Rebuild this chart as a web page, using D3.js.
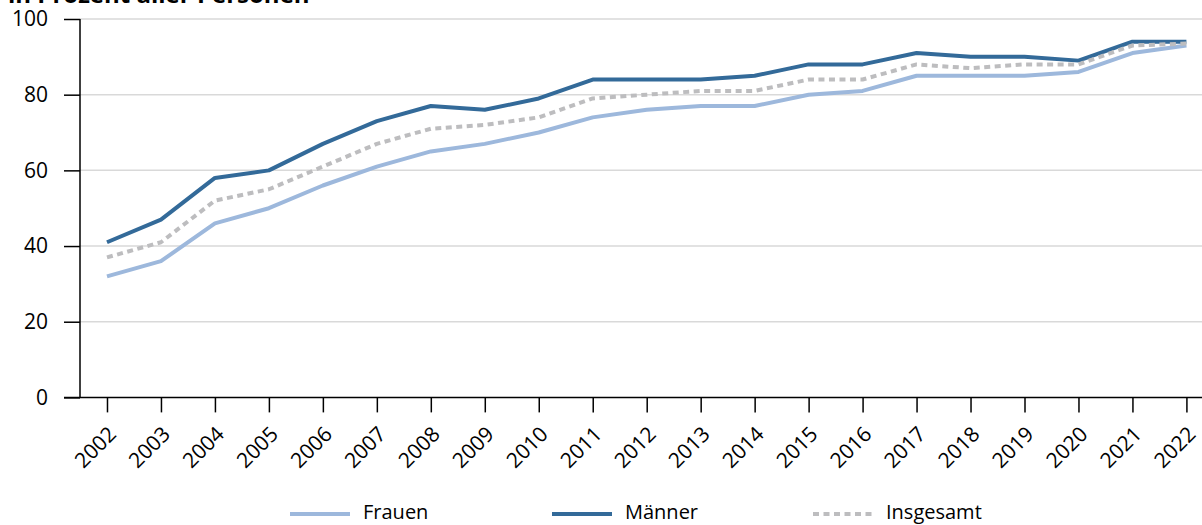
<!DOCTYPE html>
<html><head><meta charset="utf-8">
<script src="https://cdn.jsdelivr.net/npm/d3@7"></script>
<style>
html,body{margin:0;padding:0;background:#fff;}
svg{display:block;font-family:"Open Sans",sans-serif;}
</style></head>
<body><svg id="c" width="1202" height="525"></svg>
<script>
const years = ["2002","2003","2004","2005","2006","2007","2008","2009","2010","2011","2012","2013","2014","2015","2016","2017","2018","2019","2020","2021","2022"];
const frauen = [32,36,46,50,56,61,65,67,70,74,76,77,77,80,81,85,85,85,86,91,93];
const maenner = [41,47,58,60,67,73,77,76,79,84,84,84,85,88,88,91,90,90,89,94,94];
const insgesamt = [37,41,52,55,61,67,71,72,74,79,80,81,81,84,84,88,87,88,88,93,93.5];
const yTicks = [0,20,40,60,80,100];
const title = "in Prozent aller Personen";
const seriesNames = ["Frauen","Männer","Insgesamt"];

(function(){
const W = 1202, H = 525;
const mLeft = 80, mTop = 19, mBottom = 397.4;
const svg = d3.select("#c");

const x = d3.scalePoint().domain(years).range([mLeft, 1213.4]).padding(0.5);
const y = d3.scaleLinear().domain([0,100]).range([mBottom, mTop]);

// title (cut off at the top, as in the source)
svg.append("text").attr("x", 8).attr("y", 3).attr("font-weight", "bold")
  .attr("font-size", 24).attr("fill", "#000").text(title);

// gridlines
svg.append("g").selectAll("line").data(yTicks.filter(d => d > 0)).join("line")
  .attr("x1", mLeft).attr("x2", W).attr("y1", d => y(d)).attr("y2", d => y(d))
  .attr("stroke", "#d9d9d9").attr("stroke-width", 1.5);

// y axis
const gy = svg.append("g").attr("transform", `translate(${mLeft},0)`)
  .call(d3.axisLeft(y).tickValues(yTicks).tickSize(16).tickPadding(16).tickFormat(d3.format("d")));
gy.select(".domain").attr("stroke", "#000").attr("stroke-width", 1.5).attr("d", `M0,${mTop}V${mBottom}`);
gy.selectAll(".tick line").attr("stroke", "#000").attr("stroke-width", 1.5);
gy.selectAll(".tick text").attr("font-size", 21).attr("fill", "#000").attr("font-family", "Open Sans");

// x axis
const gx = svg.append("g").attr("transform", `translate(0,${mBottom})`)
  .call(d3.axisBottom(x).tickSize(15).tickPadding(0));
gx.select(".domain").attr("stroke", "#000").attr("stroke-width", 1.5).attr("d", `M${mLeft-16},0H${W}`);
gx.selectAll(".tick line").attr("stroke", "#000").attr("stroke-width", 1.5);
gx.selectAll(".tick text").attr("font-size", 21).attr("fill", "#000").attr("font-family", "Open Sans")
  .attr("text-anchor", "end").attr("y", null).attr("dy", null)
  .attr("transform", "translate(10,38) rotate(-45)");

// lines
const line = d3.line().x((d,i) => x(years[i])).y(d => y(d));
const series = [
  {name: seriesNames[0], values: frauen, color: "#9db8dc", dash: null},
  {name: seriesNames[1], values: maenner, color: "#336a99", dash: null},
  {name: seriesNames[2], values: insgesamt, color: "#bdbdbf", dash: "6,4.5"}
];
svg.append("g").selectAll("path").data(series).join("path")
  .attr("d", d => line(d.values)).attr("fill", "none")
  .attr("stroke", d => d.color).attr("stroke-width", 4)
  .attr("stroke-dasharray", d => d.dash).attr("stroke-linejoin", "round");

// legend
const legX = [290, 552, 813];
const lg = svg.append("g").selectAll("g").data(series).join("g")
  .attr("transform", (d,i) => `translate(${legX[i]},514)`);
lg.append("line").attr("x1", 0).attr("x2", 60).attr("y1", 0).attr("y2", 0)
  .attr("stroke", d => d.color).attr("stroke-width", 4).attr("stroke-dasharray", d => d.dash);
lg.append("text").attr("x", 73).attr("y", 5)
  .attr("font-size", 20).attr("fill", "#000").text(d => d.name);
})();
</script></body></html>
